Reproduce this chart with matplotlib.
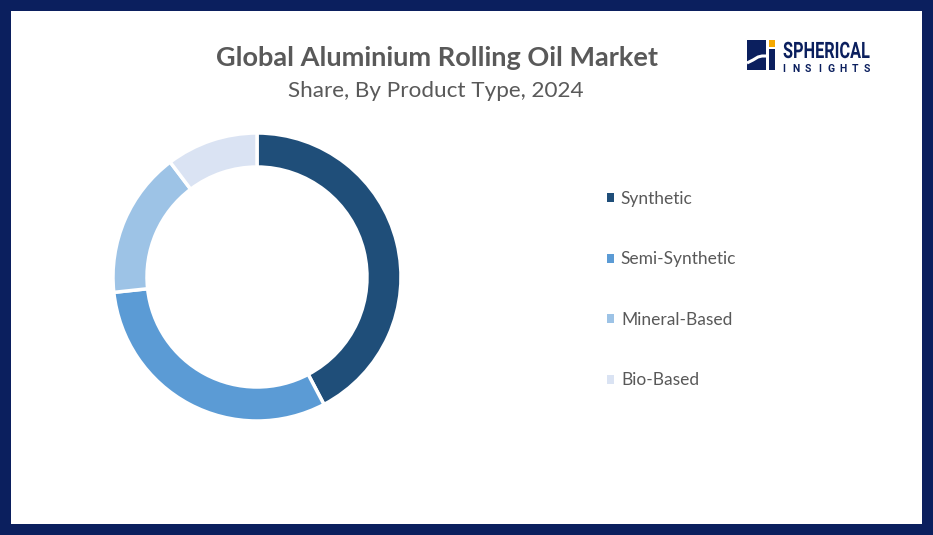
import matplotlib.pyplot as plt
from matplotlib.patches import Patch, Rectangle, PathPatch
from matplotlib.textpath import TextPath
from matplotlib.font_manager import FontProperties
from matplotlib.transforms import Affine2D

# chart values
categories = ['Synthetic', 'Semi-Synthetic', 'Mineral-Based', 'Bio-Based']
shares = [42.3, 31.0, 16.4, 10.3]
colors = ['#1F4E79', '#5B9BD5', '#9DC3E6', '#DAE3F3']

title = 'Global Aluminium Rolling Oil Market'
subtitle = 'Share, By Product Type, 2024'

W, H = 933, 535
NAVY = '#0B1F5E'
plt.rcParams['font.family'] = ['Lato', 'DejaVu Sans']

fig = plt.figure(figsize=(W / 100, H / 100), dpi=100)
fig.patch.set_facecolor(NAVY)

# white card inside the navy frame
ax = fig.add_axes([0, 0, 1, 1])
ax.add_patch(Rectangle((11, 11), W - 22, H - 22, facecolor='white', edgecolor='none'))

# donut
wedges, _ = ax.pie(shares, colors=colors, startangle=90, counterclock=False,
                   center=(257, H - 277), radius=144, frame=True,
                   wedgeprops=dict(width=34, edgecolor='white', linewidth=2.5))
ax.set_xlim(0, W)
ax.set_ylim(0, H)
ax.set_aspect('equal')
ax.axis('off')

# titles
ax.text(437, H - 58, title, ha='center', va='center', fontsize=19.5,
        fontweight='bold', color='#595959')
ax.text(436, H - 91, subtitle, ha='center', va='center', fontsize=16.2,
        color='#595959')

# legend
handles = [Patch(facecolor=c, edgecolor='none') for c in colors]
leg = ax.legend(handles, categories, loc='upper left',
                bbox_to_anchor=(607 / W, 1 - 191 / H), frameon=False,
                fontsize=12.5, labelcolor='#595959', handlelength=0.42,
                handleheight=0.42, handletextpad=0.38, labelspacing=2.56,
                borderpad=0, borderaxespad=0)

# logo mark
ax.add_patch(Rectangle((747, H - 70), 19, 30, facecolor=NAVY, edgecolor='none'))
ax.add_patch(Rectangle((769, H - 70), 6, 21, facecolor=NAVY, edgecolor='none'))
ax.add_patch(Rectangle((769, H - 47), 6, 7, facecolor='#F5A800', edgecolor='none'))
ax.plot([747, 753, 758, 762, 768], [H - 63, H - 60, H - 57, H - 56, H - 56],
        color='white', lw=2.2, solid_capstyle='butt')

# logo words, squeezed horizontally like a condensed face
fp = FontProperties(family='Roboto', weight='bold')
tp = TextPath((0, 0), 'SPHERICAL', size=22, prop=fp)
bb = tp.get_extents()
sx = 86 / bb.width
ax.add_patch(PathPatch(tp, facecolor=NAVY, edgecolor='none',
                       transform=Affine2D().scale(sx, 16.5 / bb.height)
                       .translate(783, H - 58) + ax.transData))
for i, ch in enumerate('INSIGHTS'):
    ax.text(784 + i * 11.8, H - 69.5, ch, ha='center', va='center',
            fontsize=7.5, fontweight='bold', color=NAVY, fontfamily='Roboto')

fig.savefig('out.png', dpi=100, facecolor=fig.get_facecolor())
